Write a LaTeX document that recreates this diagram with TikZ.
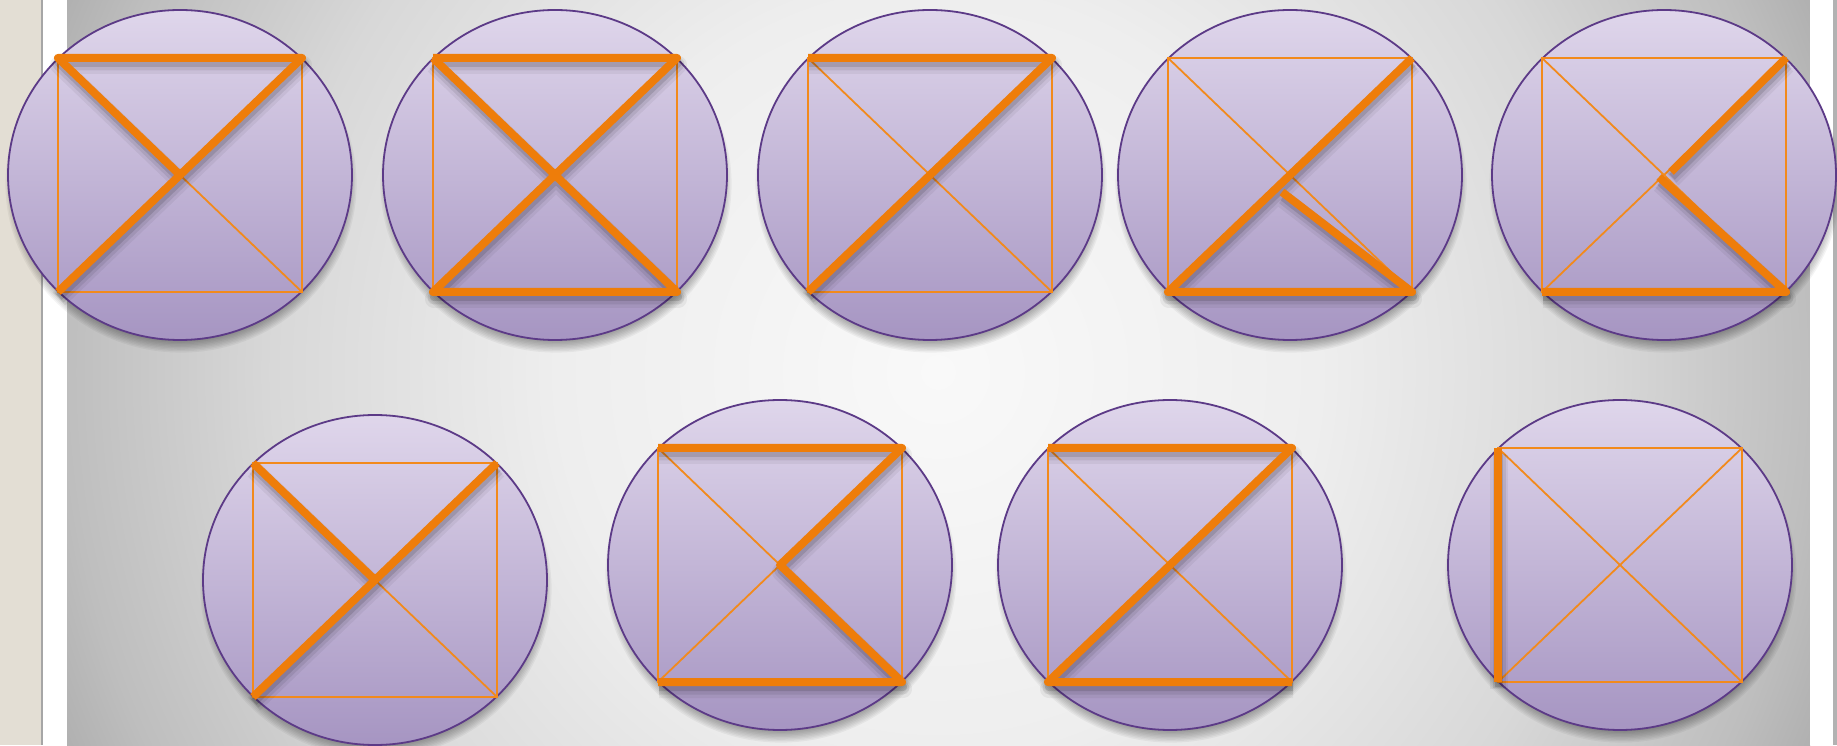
\documentclass[tikz,border=0pt]{standalone}
\usetikzlibrary{calc}
\definecolor{orng}{HTML}{EE7D0A}
\definecolor{orthin}{HTML}{F28A1C}
\definecolor{cbord}{HTML}{5C3A87}
\definecolor{ctop}{HTML}{DFD6EB}
\definecolor{cbot}{HTML}{A695C2}
\definecolor{beige}{HTML}{E3DED4}
\definecolor{bgA}{HTML}{F9F9F9}
\definecolor{bgB}{HTML}{EEEEEE}
\definecolor{bgC}{HTML}{D8D8D8}
\definecolor{bgD}{HTML}{BEBEBE}
\definecolor{bgE}{HTML}{B0B0B0}
\pgfdeclareradialshading{bgshade}{\pgfpoint{0bp}{0bp}}{color(0bp)=(bgA); color(10bp)=(bgB); color(17.5bp)=(bgC); color(23bp)=(bgD); color(25bp)=(bgE); color(50bp)=(bgE)}
\tikzset{
  thinline/.style={draw=orthin, line width=1.8pt},
  thickline/.style={draw=orng, line width=8pt, line cap=butt, line join=round},
  shadowA/.style={draw=black, line width=8pt, opacity=0.12, line join=round, transform canvas={shift={(1,-5)}}},
  shadowB/.style={draw=black, line width=13pt, opacity=0.08, line join=round, transform canvas={shift={(1,-6)}}},
  shadowC/.style={draw=black, line width=18pt, opacity=0.05, line join=round, transform canvas={shift={(1,-7)}}},
  circborder/.style={draw=cbord, line width=1.8pt},
}
\newcommand\tk[1]{\draw[shadowC] #1; \draw[shadowB] #1; \draw[shadowA] #1; \draw[thickline] #1;}
\newcommand\disc{%
  \foreach \k in {0,...,9} {\fill[black,opacity=0.045] (1,-9) ellipse [x radius=163+1.4*\k, y radius=156+1.4*\k];}
  \shade[top color=ctop,bottom color=cbot] (0,0) ellipse [x radius=172,y radius=165];
  \draw[circborder] (0,0) ellipse [x radius=172,y radius=165];
  \coordinate (TL) at (-122,117);
  \coordinate (TR) at (122,117);
  \coordinate (BL) at (-122,-117);
  \coordinate (BR) at (122,-117);
  \coordinate (O) at (0,0);
  \draw[thinline] (TL) rectangle (BR) (TL) -- (BR) (TR) -- (BL);
}
\begin{document}
\begin{tikzpicture}[x=1pt,y=1pt]
\useasboundingbox (0,0) rectangle (1837,745);
% background
\fill[beige] (0,0) rectangle (41,745);
\fill[gray!70] (41,0) rectangle (43,745);
\fill[white] (43,0) rectangle (67,745);
\begin{scope}
  \clip (67,0) rectangle (1810,745);
  \shade[shading=bgshade] (938,373) circle (950);
\end{scope}
\fill[white] (1810,0) rectangle (1833,745);
\fill[gray!60] (1833,0) rectangle (1837,745);
% C1
\begin{scope}[shift={(180,570)}]
  \disc
  \tk{(BL) -- (TR) -- (TL) -- (O)}
\end{scope}
% C2
\begin{scope}[shift={(555,570)}]
  \disc
  \tk{(TL) -- (TR) -- (BL) -- (BR) -- (TL)}
\end{scope}
% C3
\begin{scope}[shift={(930,570)}]
  \disc
  \tk{(TL) -- (TR) -- (BL)}
\end{scope}
% C4
\begin{scope}[shift={(1290,570)}]
  \disc
  \coordinate (P) at (-8,-17);
  \tk{(TR) -- (BL) -- (BR) -- (P)}
\end{scope}
% C5
\begin{scope}[shift={(1664,570)}]
  \disc
  \coordinate (P) at (7,3);
  \coordinate (Q) at (-5,-2);
  \tk{(P) -- (TR)}
  \tk{(Q) -- (BR) -- (BL)}
\end{scope}
% C6
\begin{scope}[shift={(375,165)}]
  \disc
  \tk{(TL) -- (O) (TR) -- (BL)}
\end{scope}
% C7
\begin{scope}[shift={(780,180)}]
  \disc
  \tk{(TL) -- (TR) -- (O) -- (BR) -- (BL)}
\end{scope}
% C8
\begin{scope}[shift={(1170,180)}]
  \disc
  \tk{(TL) -- (TR) -- (BL) -- (BR)}
\end{scope}
% C9
\begin{scope}[shift={(1620,180)}]
  \disc
  \tk{(TL) -- (BL)}
\end{scope}
\end{tikzpicture}
\end{document}
